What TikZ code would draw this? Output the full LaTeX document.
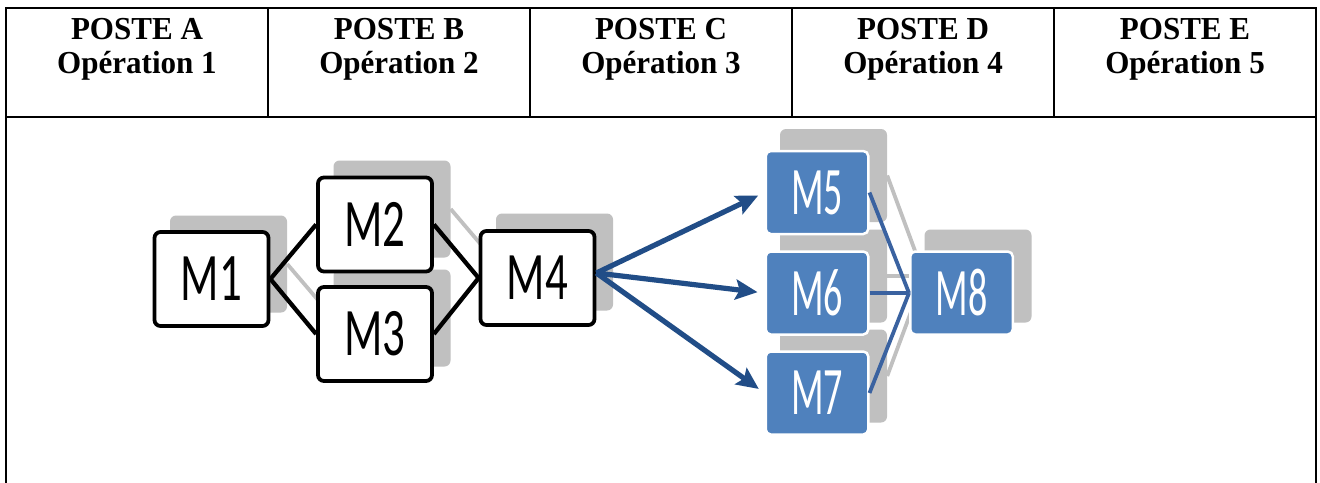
\documentclass[tikz,border=0pt]{standalone}
\usepackage{fontspec}
\usepackage{graphicx}
\usetikzlibrary{arrows.meta}
\newfontfamily\hdrfont{Liberation Serif}
\newfontfamily\boxfont{Carlito}
\definecolor{boxblue}{HTML}{4F81BD}
\definecolor{arrowblue}{RGB}{33,77,135}
\definecolor{linkblue}{RGB}{58,98,160}
\definecolor{shadegray}{RGB}{192,192,192}
\newcommand\wlabel[1]{\scalebox{0.66}[1]{\fontsize{68}{68}\selectfont #1}}
\newcommand\blabel[1]{\scalebox{0.56}[1]{\fontsize{68}{68}\selectfont #1}}
\newcommand\hdrtext[1]{\scalebox{0.97}[1]{#1}}
\tikzset{
  tabrule/.style={line width=2pt, line cap=rect},
  hdr/.style={font=\hdrfont\bfseries\fontsize{32}{34}\selectfont, anchor=base, inner sep=0pt},
  grayback/.style={fill=shadegray, rounded corners=6pt, minimum width=117pt, minimum height=97pt, inner sep=0pt},
  bgrayback/.style={fill=shadegray, rounded corners=6pt, minimum width=107pt, minimum height=93pt, inner sep=0pt},
  wbox/.style={draw=black, fill=white, line width=3.8pt, rounded corners=6pt, minimum width=114pt, minimum height=94pt, inner sep=0pt, font=\boxfont},
  bbox/.style={draw=white, fill=boxblue, line width=2.5pt, rounded corners=5pt, minimum width=102.5pt, minimum height=83pt, inner sep=0pt, text=white, font=\boxfont},
  blackline/.style={line width=4.3pt, black},
  blueline/.style={line width=3.8pt, linkblue},
  grayline/.style={line width=3.8pt, shadegray},
  flowarrow/.style={line width=5.2pt, arrowblue, -{Stealth[length=22pt,width=20pt,inset=4pt]}, shorten >=7pt},
}
\begin{document}
\begin{tikzpicture}[x=1pt,y=-1pt]
\useasboundingbox (0,0) rectangle (1320,482);
\fill[white] (0,0) rectangle (1320,482);

% table frame
\draw[tabrule] (6,8) -- (1316,8);
\draw[tabrule] (6,117) -- (1316,117);
\draw[tabrule] (6,8) -- (6,490);
\draw[tabrule] (1316,8) -- (1316,490);
\foreach \x in {268,530,792,1054} \draw[tabrule] (\x,8) -- (\x,117);

% column headings
\node[hdr] (hA1) at (137,39.5) {\hdrtext{POSTE A}};
\node[hdr] (hA2) at (137,73) {\hdrtext{Opération 1}};
\node[hdr] (hB1) at (399,39.5) {\hdrtext{POSTE B}};
\node[hdr] (hB2) at (399,73) {\hdrtext{Opération 2}};
\node[hdr] (hC1) at (661,39.5) {\hdrtext{POSTE C}};
\node[hdr] (hC2) at (661,73) {\hdrtext{Opération 3}};
\node[hdr] (hD1) at (923,39.5) {\hdrtext{POSTE D}};
\node[hdr] (hD2) at (923,73) {\hdrtext{Opération 4}};
\node[hdr] (hE1) at (1185,39.5) {\hdrtext{POSTE E}};
\node[hdr] (hE2) at (1185,73) {\hdrtext{Opération 5}};

% grey backdrops
\node[grayback] (S1) at (228.5,264) {};
\node[grayback] (S2) at (392,209) {};
\node[grayback] (S3) at (392,318) {};
\node[grayback] (S4) at (554.5,262) {};
\node[bgrayback] (S5) at (833.5,175.5) {};
\node[bgrayback] (S6) at (833.5,276) {};
\node[bgrayback] (S7) at (833.5,376) {};
\node[bgrayback] (S8) at (978,276) {};

% grey backdrop links
\draw[grayline] (S1.east) -- (S3.west);
\draw[grayline] (S2.east) -- (S4.west);
\draw[grayline] (S5.east) -- (S8.west);
\draw[grayline] (S6.east) -- (S8.west);
\draw[grayline] (S7.east) -- (S8.west);

% machines
\node[wbox] (M1) at (211.5,279) {\wlabel{M1}};
\node[wbox] (M2) at (375,224.5) {\wlabel{M2}};
\node[wbox] (M3) at (375,334) {\wlabel{M3}};
\node[wbox] (M4) at (537.5,278) {\wlabel{M4}};
\node[bbox] (M5) at (817,192.5) {\blabel{M5}};
\node[bbox] (M6) at (817,293) {\blabel{M6}};
\node[bbox] (M7) at (817,393) {\blabel{M7}};
\node[bbox] (M8) at (961.5,293) {\blabel{M8}};

% links
\draw[blackline] (M1.east) -- (M2.west);
\draw[blackline] (M1.east) -- (M3.west);
\draw[blackline] (M2.east) -- (M4.west);
\draw[blackline] (M3.east) -- (M4.west);
\draw[blueline] (M5.east) -- (M8.west);
\draw[blueline] (M6.east) -- (M8.west);
\draw[blueline] (M7.east) -- (M8.west);

% flow from M4
\draw[flowarrow] ([yshift=5pt]M4.east) -- (M5.west);
\draw[flowarrow] ([yshift=5pt]M4.east) -- (M6.west);
\draw[flowarrow] ([yshift=5pt]M4.east) -- (M7.west);
\end{tikzpicture}
\end{document}
